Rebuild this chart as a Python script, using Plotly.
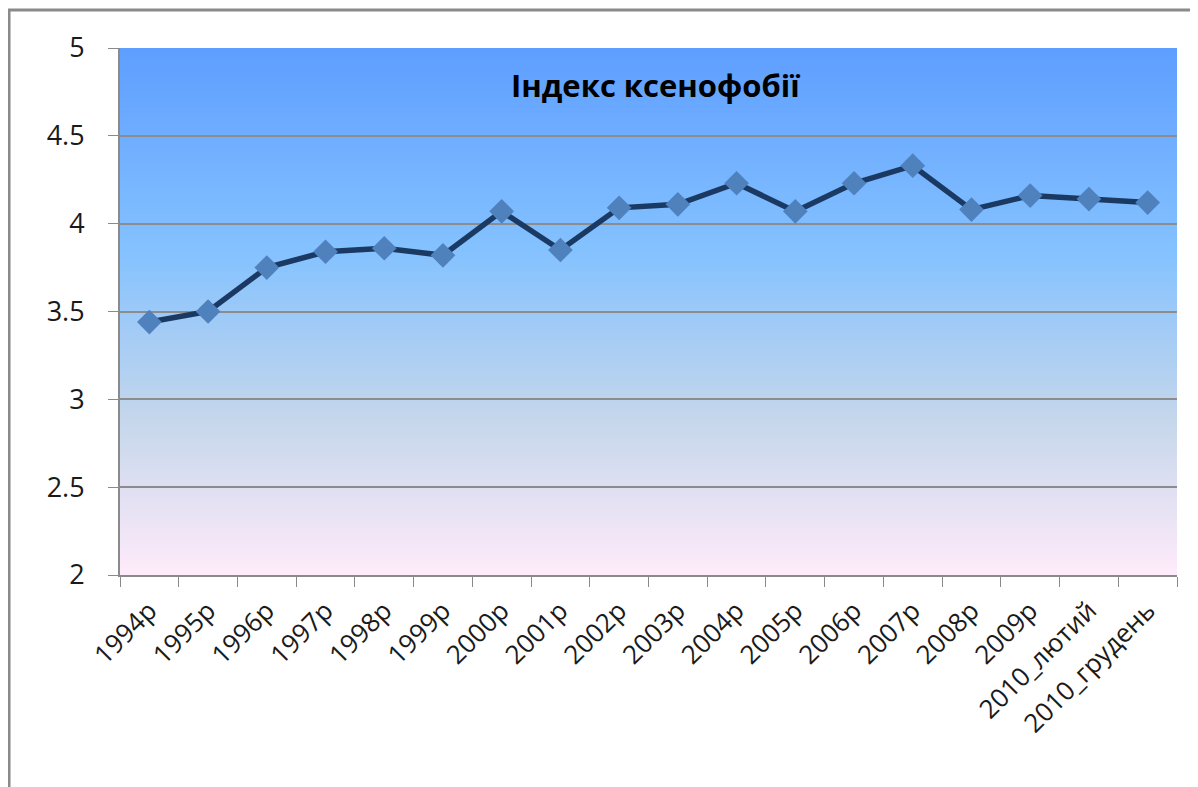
import plotly.graph_objects as go

categories = ["1994р", "1995р", "1996р", "1997р", "1998р", "1999р", "2000р", "2001р",
              "2002р", "2003р", "2004р", "2005р", "2006р", "2007р", "2008р", "2009р",
              "2010_лютий", "2010_грудень"]
values = [3.44, 3.50, 3.75, 3.84, 3.86, 3.82, 4.07, 3.85, 4.09, 4.11, 4.23, 4.07,
          4.23, 4.33, 4.08, 4.16, 4.14, 4.12]
y_ticks = [2, 2.5, 3, 3.5, 4, 4.5, 5]
title_text = "Індекс ксенофобії"

# gradient stops (Excel "Daybreak"-like), position from top
stops = [(0.0, (94, 158, 255)), (0.39, (133, 194, 255)), (0.70, (196, 214, 235)), (1.0, (255, 235, 250))]

def grad(t):
    for i in range(len(stops) - 1):
        a, ca = stops[i]
        b, cb = stops[i + 1]
        if a <= t <= b:
            f = (t - a) / (b - a)
            return tuple(round(ca[k] + (cb[k] - ca[k]) * f) for k in range(3))
    return stops[-1][1]

shapes = []
N = 150
for i in range(N):
    t = (i + 0.5) / N
    c = grad(t)
    shapes.append(dict(type="rect", xref="x domain", yref="y domain",
                       x0=0, x1=1, y1=1 - i / N, y0=max(0, 1 - (i + 1) / N - 0.002),
                       fillcolor="rgb(%d,%d,%d)" % c, line=dict(width=0), layer="below"))
# outer chart frame
shapes.append(dict(type="rect", xref="paper", yref="paper",
                   x0=-0.105, x1=1.06, y0=-0.6, y1=1.072,
                   line=dict(color="#8a8a8a", width=3), fillcolor="rgba(0,0,0,0)", layer="above"))

FONT = "Open Sans, Noto Sans, sans-serif"

fig = go.Figure()
fig.add_trace(go.Scatter(
    x=categories, y=values, mode="lines+markers",
    line=dict(color="#1b3a63", width=5.5),
    marker=dict(symbol="diamond", size=19, color="#4f81bd", line=dict(width=0)),
    cliponaxis=False, showlegend=False,
))

fig.update_layout(
    width=1190, height=779,
    margin=dict(l=112, r=21, t=40, b=212),
    paper_bgcolor="white", plot_bgcolor="white",
    shapes=shapes,
    font=dict(family=FONT, color="#1a1a1a"),
    annotations=[dict(text="<b>" + title_text + "</b>", xref="paper", yref="paper",
                      x=0.507, y=0.93, xanchor="center", yanchor="middle", showarrow=False,
                      font=dict(size=31, color="black", family=FONT))],
)
fig.update_xaxes(
    type="category", tickson="boundaries", ticks="outside", ticklen=10, tickcolor="#8a8a8a",
    showline=True, linecolor="#8a8a8a", linewidth=2, showgrid=False,
    tickangle=-45, tickfont=dict(size=26, color="#1a1a1a"),
    range=[-0.5, len(categories) - 0.5], ticklabelstandoff=8,
)
fig.update_yaxes(
    range=[2, 5], tickvals=y_ticks, ticktext=[("%g" % v) for v in y_ticks],
    ticks="outside", ticklen=10, tickcolor="#8a8a8a",
    showline=True, linecolor="#8a8a8a", linewidth=2,
    showgrid=True, gridcolor="#8c8c8c", gridwidth=1.5,
    tickfont=dict(size=27, color="#1a1a1a"), ticklabelstandoff=18, zeroline=False,
)
fig.write_html("out.html")
